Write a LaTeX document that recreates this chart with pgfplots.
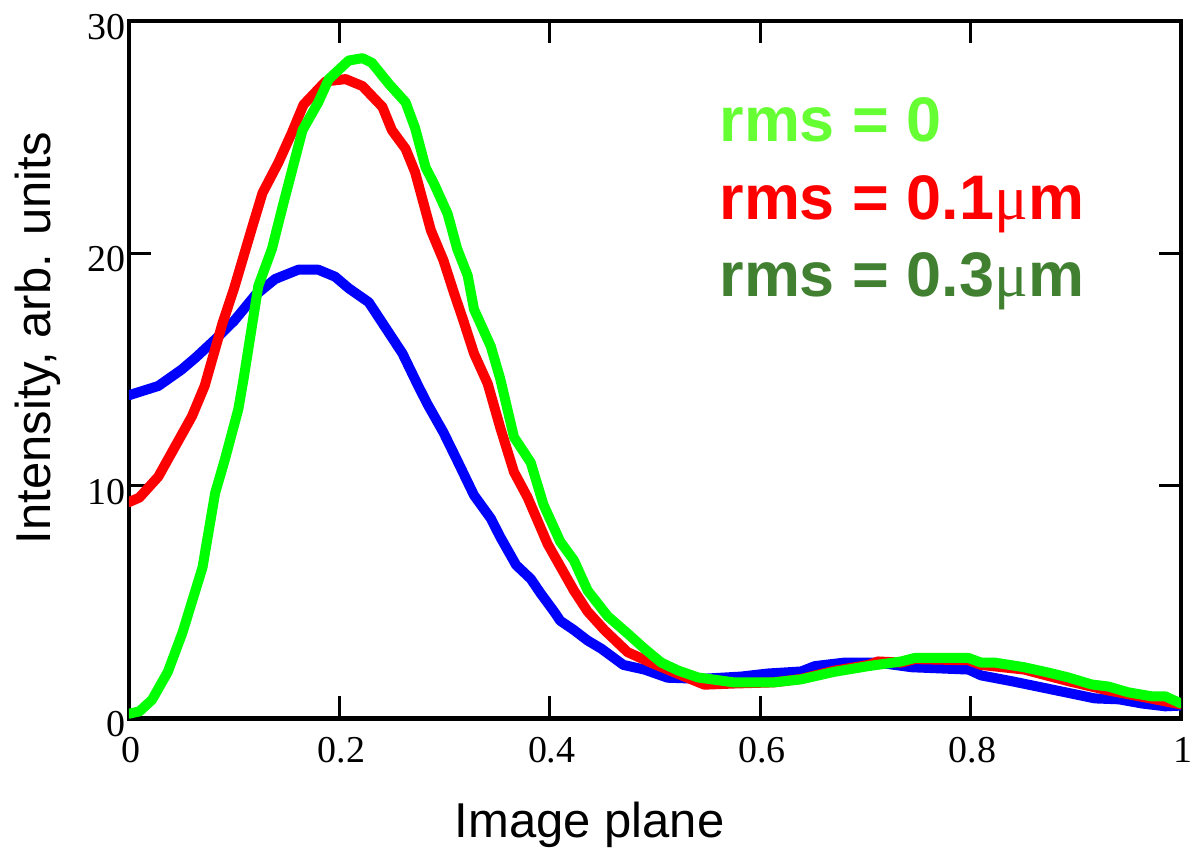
\documentclass[border=0pt]{standalone}
\usepackage{fontspec}
\setmainfont{Liberation Sans}
\newfontfamily\seriffont{Liberation Serif}
\usepackage{pgfplots}
\pgfplotsset{compat=1.18}
\definecolor{cblue}{RGB}{0,0,255}
\definecolor{cred}{RGB}{255,0,0}
\definecolor{cgreen}{RGB}{0,255,0}
\definecolor{lgreen}{RGB}{102,255,51}
\definecolor{dgreen}{RGB}{64,128,48}
\begin{document}
\begin{tikzpicture}
\begin{axis}[name=ax,
  scale only axis, width=526.5pt, height=349pt,
  xmin=0, xmax=1, ymin=0, ymax=30,
  xtick={0,0.2,0.4,0.6,0.8,1}, ytick={0,10,20,30},
  tick align=inside, major tick length=11pt,
  axis line style={line width=2.2pt},
  every tick/.style={black, line width=1.5pt},
  /pgf/number format/assume math mode=true,
  tick label style={font=\seriffont\fontsize{19}{19}\selectfont},
  xticklabel style={yshift=-6pt, xshift=1pt},
  yticklabel style={xshift=2pt, yshift=-3pt},
  label style={font=\fontsize{24.5}{26}\selectfont},
  xlabel={Image plane},
  ylabel={Intensity, arb. units},
  xlabel style={at={(axis description cs:0.438,-0.1705)}, anchor=base},
  ylabel style={at={(axis description cs:-0.0741,0.545)}, anchor=base},
  every axis plot/.append style={line width=5pt, line join=round, line cap=round},
]
\addplot[cblue] coordinates {
(0.000,13.9)(0.028,14.3)(0.050,15.0)(0.063,15.5)(0.082,16.3)(0.100,17.1)
(0.120,18.2)(0.139,18.9)(0.161,19.3)(0.180,19.3)(0.196,19.0)(0.209,18.5)
(0.228,17.9)(0.244,16.8)(0.260,15.7)(0.275,14.3)(0.284,13.5)(0.299,12.3)
(0.312,11.1)(0.328,9.6)(0.344,8.6)(0.353,7.8)(0.368,6.6)(0.382,6.0)
(0.391,5.4)(0.404,4.6)(0.410,4.2)(0.423,3.8)(0.436,3.35)(0.449,3.0)
(0.470,2.3)(0.490,2.1)(0.512,1.75)(0.544,1.7)(0.582,1.8)(0.607,1.93)
(0.639,2.02)(0.652,2.25)(0.680,2.4)(0.712,2.4)(0.744,2.2)(0.798,2.1)
(0.810,1.85)(0.839,1.6)(0.868,1.33)(0.900,1.03)(0.918,0.86)(0.941,0.82)
(0.963,0.64)(0.985,0.52)(1.000,0.55)
};
\addplot[cred] coordinates {
(0.000,9.3)(0.010,9.5)(0.028,10.4)(0.044,11.7)(0.060,13.0)(0.072,14.3)
(0.089,17.0)(0.100,18.5)(0.117,21.1)(0.127,22.6)(0.142,23.9)(0.155,25.2)
(0.166,26.4)(0.187,27.4)(0.206,27.5)(0.222,27.2)(0.241,26.3)(0.250,25.3)
(0.263,24.5)(0.272,23.5)(0.287,21.0)(0.299,19.7)(0.309,18.3)(0.318,17.1)
(0.328,15.7)(0.341,14.4)(0.353,12.5)(0.366,10.6)(0.379,9.5)(0.398,7.5)
(0.408,6.7)(0.423,5.5)(0.436,4.6)(0.452,3.8)(0.474,2.85)(0.496,2.4)
(0.520,1.95)(0.547,1.45)(0.575,1.5)(0.613,1.55)(0.639,1.7)(0.670,2.05)
(0.703,2.3)(0.712,2.45)(0.734,2.4)(0.747,2.55)(0.798,2.5)(0.810,2.3)
(0.851,2.1)(0.893,1.6)(0.931,1.2)(0.972,0.85)(1.000,0.6)
};
\addplot[cgreen] coordinates {
(0.000,0.2)(0.010,0.3)(0.022,0.8)(0.037,2.0)(0.051,3.7)(0.070,6.5)
(0.082,9.7)(0.091,11.1)(0.104,13.3)(0.109,14.6)(0.123,18.6)(0.136,20.2)
(0.146,22.0)(0.165,25.3)(0.180,26.5)(0.190,27.5)(0.209,28.3)(0.222,28.4)
(0.231,28.2)(0.247,27.3)(0.263,26.5)(0.272,25.4)(0.282,23.7)(0.290,23.0)
(0.303,21.7)(0.312,20.2)(0.322,19.05)(0.328,17.6)(0.344,16.0)(0.353,14.6)
(0.366,12.1)(0.382,11.0)(0.394,9.2)(0.410,7.6)(0.423,6.8)(0.436,5.5)
(0.455,4.4)(0.474,3.65)(0.490,3.0)(0.506,2.4)(0.522,2.06)(0.541,1.76)
(0.575,1.55)(0.613,1.55)(0.639,1.68)(0.670,2.0)(0.703,2.25)(0.734,2.45)
(0.747,2.6)(0.798,2.6)(0.810,2.4)(0.823,2.4)(0.851,2.2)(0.874,1.97)
(0.893,1.76)(0.915,1.46)(0.931,1.37)(0.950,1.12)(0.972,0.95)(0.985,0.95)
(1.000,0.64)
};
\node[anchor=base west, inner sep=0pt, text=lgreen, font=\bfseries\fontsize{31.5}{32}\selectfont]
  at (axis description cs:0.561,0.8266) {rms = 0};
\node[anchor=base west, inner sep=0pt, text=cred, font=\bfseries\fontsize{31.5}{32}\selectfont]
  at (axis description cs:0.561,0.715) {rms = 0.1{\seriffont\mdseries μ}m};
\node[anchor=base west, inner sep=0pt, text=dgreen, font=\bfseries\fontsize{31.5}{32}\selectfont]
  at (axis description cs:0.561,0.6046) {rms = 0.3{\seriffont\mdseries μ}m};
\end{axis}
\pgfresetboundingbox
\path ([xshift=-64.5pt,yshift=-66pt]ax.south west) rectangle ([xshift=6.5pt,yshift=10.5pt]ax.north east);
\end{tikzpicture}
\end{document}
